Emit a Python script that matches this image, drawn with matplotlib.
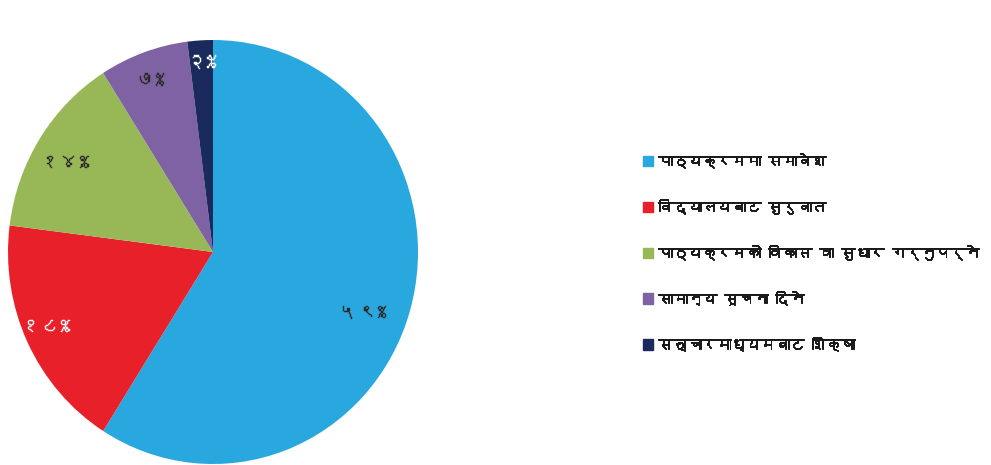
import numpy as np
import matplotlib
matplotlib.use("Agg")
import matplotlib.pyplot as plt
import matplotlib.patheffects as pe
from matplotlib import font_manager
from matplotlib.ft2font import FT2Font

categories = ["पाठ्यक्रममा समावेश", "विद्यालयबाट सुरुवात",
              "पाठ्यक्रमको विकास वा सुधार गर्नुपर्ने", "सामान्य सूचना दिने",
              "सञ्चारमाध्यमबाट शिक्षा"]
values = [59, 18, 14, 7, 2]
pct_labels = ["५९%", "१८%", "१४%", "७%", "२%"]

colors = ["#29A8E0", "#E8202A", "#98B858", "#7E62A3", "#1B2A5C"]
label_colors = ["#2a2a2a", "white", "#2a2a2a", "#2a2a2a", "white"]
label_radii = [0.78, 0.89, 0.84, 0.87, 0.90]
label_angle_shift = [-5.0, -2.0, 2.0, 1.0, 0.0]

# find a font covering Devanagari
deva_font = None
for f in font_manager.fontManager.ttflist:
    try:
        cm = FT2Font(f.fname).get_charmap()
        if 0x092A in cm and 0x0966 in cm:
            deva_font = f.name
            break
    except Exception:
        pass
families = ([deva_font] if deva_font else []) + ["DejaVu Sans"]
plt.rcParams["font.family"] = families

fig = plt.figure(figsize=(9.91, 4.65), dpi=100)
ax = fig.add_axes([8 / 991, 1 / 465, 410 / 991, 424 / 465])
wedges, _ = ax.pie(values, colors=colors, startangle=90, counterclock=False,
                   radius=1.0, wedgeprops=dict(linewidth=0))
ax.set_aspect("auto")
ax.set_xlim(-1, 1)
ax.set_ylim(-1, 1)
ax.axis("off")

for w, lab, c, r, da in zip(wedges, pct_labels, label_colors, label_radii,
                            label_angle_shift):
    ang = np.deg2rad((w.theta1 + w.theta2) / 2 + da)
    ax.text(r * np.cos(ang), r * np.sin(ang), lab, ha="center", va="center",
            fontsize=14, color=c,
            path_effects=[pe.withStroke(linewidth=0.3, foreground=c)])

handles = [plt.Rectangle((0, 0), 1, 1, color=c) for c in colors]
leg = fig.legend(handles, categories, loc="upper left",
                 bbox_to_anchor=(630 / 991, 1 - 140 / 465), frameon=False,
                 fontsize=10.5, handlelength=0.7, handleheight=0.7,
                 handletextpad=0.35, labelspacing=2.12)
for t in leg.get_texts():
    t.set_color("#1a1a1a")
    t.set_path_effects([pe.withStroke(linewidth=0.7, foreground="#1a1a1a")])

fig.savefig("out.png", dpi=100)
